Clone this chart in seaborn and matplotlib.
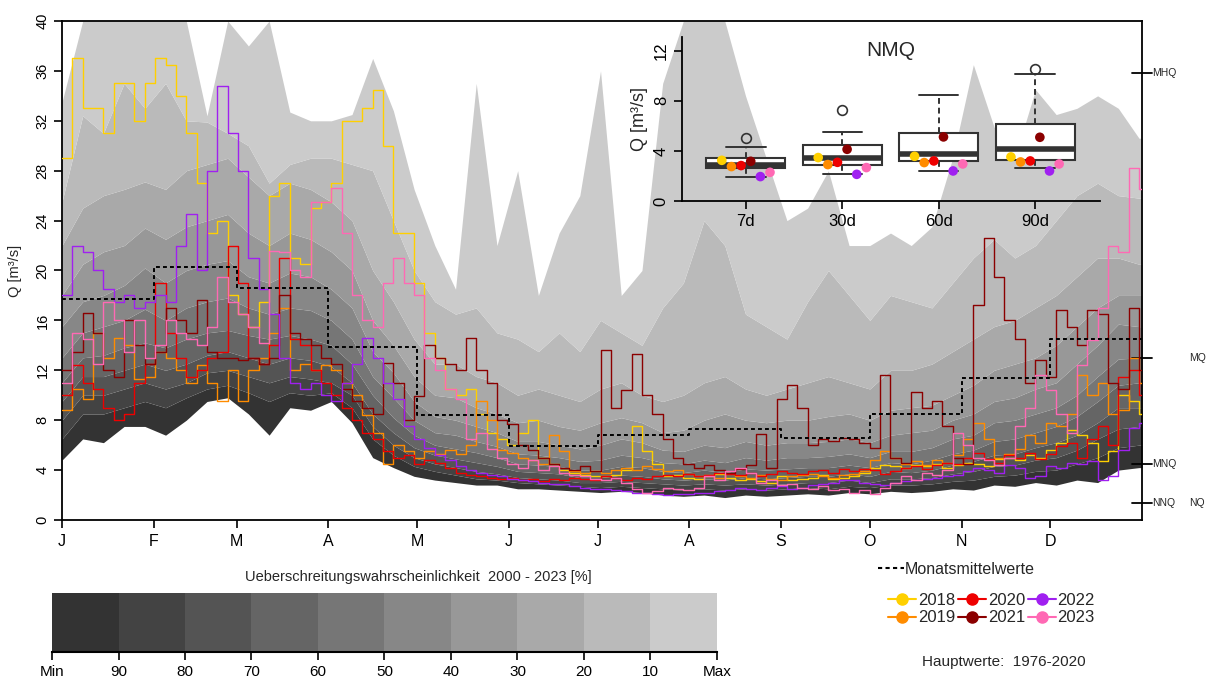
import numpy as np
import pandas as pd
import matplotlib
matplotlib.use("Agg")
import matplotlib.pyplot as plt
import matplotlib.transforms as mtransforms
from matplotlib.lines import Line2D
import seaborn as sns

# ---- data
# percentile bands: weekly readings (day of year each week starts)
days = np.arange(0, 365, 7)

q_min = [4.8, 6.5, 6.2, 7.5, 7.5, 6.8, 8.0, 9.5, 9.8, 8.5, 6.8, 9.0, 8.8, 9.5, 7.8, 5.0, 4.2, 3.5,
         3.2, 3.0, 2.8, 2.8, 2.5, 2.5, 2.4, 2.3, 2.2, 2.3, 2.2, 2.0, 1.9, 2.0, 1.8, 2.0, 1.9, 2.0,
         2.1, 2.0, 2.2, 2.1, 2.3, 2.2, 2.3, 2.5, 2.4, 2.8, 2.7, 3.0, 2.8, 3.2, 3.0, 4.0, 4.2]
q90 = [6.5, 8.5, 8.5, 9.0, 9.5, 9.0, 9.8, 10.5, 10.8, 10.2, 9.5, 10.2, 10.0, 10.2, 9.0, 6.5, 5.2, 4.3,
       3.9, 3.6, 3.3, 3.2, 3.0, 2.9, 2.8, 2.7, 2.6, 2.7, 2.6, 2.5, 2.4, 2.5, 2.4, 2.5, 2.4, 2.5,
       2.6, 2.5, 2.7, 2.6, 2.8, 2.8, 2.9, 3.1, 3.2, 3.5, 3.6, 3.9, 4.0, 4.5, 5.0, 5.8, 6.0]
q80 = [8.0, 10.0, 10.0, 10.5, 11.0, 10.5, 11.0, 11.8, 12.0, 11.5, 11.0, 11.5, 11.3, 11.0, 10.0, 7.5, 6.0, 5.0,
       4.5, 4.2, 3.9, 3.7, 3.4, 3.3, 3.2, 3.0, 3.0, 3.1, 3.0, 2.9, 2.8, 2.9, 2.8, 2.9, 2.8, 2.9,
       3.0, 3.0, 3.2, 3.0, 3.3, 3.3, 3.4, 3.7, 3.9, 4.3, 4.4, 4.8, 5.0, 5.6, 6.5, 7.3, 7.5]
q70 = [9.5, 11.5, 11.5, 12.0, 12.5, 12.0, 12.5, 13.2, 13.5, 13.0, 12.5, 13.0, 12.8, 12.3, 11.0, 8.5, 7.0, 5.8,
       5.2, 4.9, 4.6, 4.3, 3.9, 3.8, 3.7, 3.4, 3.4, 3.6, 3.5, 3.3, 3.2, 3.3, 3.2, 3.4, 3.3, 3.4,
       3.5, 3.5, 3.7, 3.5, 3.9, 3.8, 4.0, 4.4, 4.7, 5.2, 5.3, 5.8, 6.2, 6.8, 7.8, 9.0, 9.0]
q60 = [11.0, 13.0, 13.2, 13.8, 14.2, 13.8, 14.5, 15.0, 15.2, 14.8, 14.5, 14.8, 14.5, 14.0, 12.5, 10.0, 8.2, 6.8,
       6.0, 5.7, 5.4, 5.0, 4.5, 4.4, 4.3, 4.0, 4.0, 4.3, 4.2, 3.9, 3.8, 4.0, 3.8, 4.1, 4.0, 4.1,
       4.2, 4.2, 4.4, 4.2, 4.6, 4.5, 4.8, 5.3, 5.6, 6.3, 6.5, 7.0, 7.5, 8.3, 9.5, 10.8, 11.0]
q50 = [13.0, 15.0, 15.5, 16.0, 16.9, 16.0, 17.0, 17.5, 17.8, 17.0, 16.5, 17.0, 16.8, 16.0, 14.5, 11.5, 9.8, 8.0,
       7.0, 6.8, 6.3, 5.9, 5.3, 5.2, 5.0, 4.7, 4.8, 5.2, 5.0, 4.6, 4.5, 4.8, 4.6, 5.0, 4.8, 5.0,
       5.0, 5.1, 5.3, 5.0, 5.5, 5.5, 5.8, 6.5, 6.8, 7.8, 8.0, 8.5, 9.0, 10.0, 11.5, 12.9, 13.0]
q40 = [15.5, 17.5, 18.0, 18.8, 20.2, 19.0, 20.0, 20.5, 20.8, 19.5, 19.0, 19.8, 19.5, 18.5, 17.0, 13.5, 11.8, 9.5,
       8.3, 8.0, 7.5, 7.0, 6.3, 6.3, 6.0, 5.7, 6.0, 6.5, 6.2, 5.6, 5.5, 6.0, 5.8, 6.3, 6.0, 6.2,
       6.2, 6.3, 6.5, 6.2, 6.8, 7.0, 7.2, 8.0, 8.5, 9.5, 9.8, 10.5, 11.0, 12.5, 14.0, 15.7, 15.5]
q30 = [18.0, 20.5, 21.5, 22.0, 23.4, 22.5, 23.5, 24.0, 24.5, 23.0, 22.0, 23.0, 22.5, 21.5, 20.0, 16.0, 14.0, 11.5,
       10.0, 9.8, 9.0, 8.5, 7.8, 8.0, 7.5, 7.2, 7.8, 8.2, 7.8, 7.0, 7.2, 8.0, 8.5, 8.0, 7.8, 8.0,
       8.0, 8.3, 8.5, 8.0, 8.8, 9.0, 9.2, 10.0, 10.8, 12.0, 12.5, 13.0, 14.0, 15.5, 17.0, 18.0, 18.0]
q20 = [22.0, 25.0, 26.0, 26.5, 27.1, 26.5, 28.0, 28.5, 29.0, 27.5, 26.0, 27.0, 26.5, 25.5, 24.0, 20.0, 17.5, 14.5,
       12.5, 12.5, 11.5, 11.0, 10.0, 10.5, 10.0, 9.5, 10.5, 11.0, 10.0, 9.5, 10.0, 11.0, 11.5, 10.5, 10.0, 10.5,
       11.0, 11.5, 11.0, 10.5, 12.0, 12.0, 12.5, 13.5, 14.5, 15.5, 16.0, 17.0, 18.0, 19.5, 21.0, 21.0, 20.5]
q10 = [25.5, 32.4, 31.0, 35.0, 33.0, 35.0, 32.0, 31.9, 31.0, 30.0, 27.0, 28.5, 29.0, 29.0, 28.5, 28.0, 24.0, 20.0,
       17.5, 16.5, 17.0, 15.0, 14.5, 13.5, 15.0, 13.5, 16.0, 15.0, 14.0, 17.0, 19.0, 24.0, 22.0, 16.5, 15.5, 14.5,
       17.5, 20.0, 18.0, 16.0, 18.0, 17.5, 17.0, 19.0, 21.0, 22.5, 21.0, 22.0, 24.0, 26.0, 27.0, 26.0, 25.8]
q_max = [33.5, 40, 40, 40, 40, 40, 40, 32.4, 40, 38, 40, 32.7, 32, 32, 32.5, 37, 32.8, 26.5,
         22, 18.5, 35, 22, 28, 18, 23, 26, 36, 18, 20, 35, 40, 40, 40, 34, 29, 24,
         25, 28, 22, 22, 23, 22, 23.5, 29, 36.5, 31.5, 29, 34.5, 32.5, 33, 34, 33, 30.6]

# single years: half-week readings
half_days = np.arange(105) * 3.5

q_2018 = [29, 37, 33, 33, 31, 35, 35, 32, 35, 37,
          36.5, 34, 31, 27, 23, 24, 18, 16.5, 15.5, 17.5,
          26, 27, 21, 20.5, 25, 25.5, 27, 32, 32, 33,
          34.5, 30, 23, 23, 19, 15, 13, 10.5, 10, 10.5,
          8.5, 7, 6.5, 6, 7, 8, 5, 4.5, 4, 3.8,
          3.6, 3.5, 3.5, 3.6, 4, 7.5, 5.5, 4.5, 3.5, 3.6,
          3.4, 3.3, 3.5, 3.7, 3.4, 3.2, 3.3, 3.1, 3.0, 3.5,
          3.2, 3.3, 3.4, 3.6, 3.3, 3.4, 3.5, 3.8, 4.2, 4.4,
          4.3, 4.2, 4.4, 4.3, 4.5, 4.2, 4.4, 4.6, 4.5, 4.3,
          4.9, 5.0, 4.8, 5.2, 5.0, 5.6, 6.2, 7.2, 6.8, 6.2,
          4.7, 5.5, 10, 9.5, 8.5]
q_2019 = [8.8, 10.5, 9.7, 15, 13, 14.6, 14, 11.3, 11.5, 13.5,
          13, 12, 11, 12.4, 11, 9.5, 12, 9.5, 12, 13,
          15, 17, 12, 12.5, 12, 12.4, 12, 11, 10, 8.4,
          7, 4.5, 6, 5.5, 5, 5.5, 5.3, 5.6, 5.3, 6,
          9.5, 8, 5.6, 5.4, 5.0, 4.8, 4.5, 6.8, 5.5, 3.9,
          3.8, 3.9, 3.8, 4.0, 4.2, 4.0, 4.3, 4.1, 3.9, 4.0,
          3.7, 3.5, 3.6, 3.4, 3.7, 3.5, 3.4, 3.6, 3.3, 3.2,
          3.5, 3.6, 3.7, 3.5, 3.4, 3.6, 3.7, 3.9, 4.8, 5.5,
          5.0, 4.5, 4.7, 4.4, 4.8, 4.6, 5.2, 6.5, 7.8, 6.5,
          5.0, 5.3, 5.7, 6.8, 6.2, 7.8, 7.5, 8.5, 11.6, 10,
          11, 8.5, 8.8, 13, 11]
q_2020 = [10, 12.4, 11, 10.5, 9, 8, 8.5, 11, 12.5, 19,
          15, 13, 11.5, 12, 13, 13.5, 22, 19, 13, 12.5,
          14, 21, 14.5, 14, 12, 11, 10, 9, 8, 7,
          6.5, 5.5, 5, 5.2, 4.5, 4.8, 4.6, 4.2, 3.8, 3.6,
          3.5, 3.4, 3.3, 3.4, 3.2, 3.3, 3.1, 3.3, 3.2, 3.4,
          3.3, 3.2, 3.5, 3.4, 3.2, 3.4, 3.3, 3.5, 3.6, 3.5,
          3.7, 3.5, 3.6, 3.8, 3.7, 3.6, 3.8, 3.5, 3.7, 3.9,
          3.8, 3.7, 3.9, 4.0, 3.8, 4.1, 3.9, 4.1, 4.0, 3.7,
          3.9, 4.2, 4.3, 4.1, 4.4, 4.6, 4.5, 5.0, 5.4, 4.9,
          4.6, 5.2, 5.0, 5.4, 4.9, 5.3, 5.9, 6.2, 5.0, 6.5,
          7.5, 6.0, 11.5, 12, 10]
q_2021 = [12, 13.5, 16.6, 15, 12, 11.5, 16, 14, 12.5, 13.5,
          17, 16, 15, 17.6, 13.5, 13, 13, 12.8, 13, 12.5,
          13, 18, 15, 14.5, 14, 13, 12.5, 10.5, 9.5, 9,
          8.5, 12.6, 11, 8, 9.9, 14, 13, 12.5, 12, 14.6,
          12, 11, 8, 7.7, 6, 5.6, 5, 4.5, 4.2, 4.0,
          4.3, 3.9, 13.6, 9, 10.4, 13.3, 10, 8.5, 6.5, 5,
          4.5, 4.2, 4.4, 4.0, 3.8, 4.1, 4.4, 6.9, 4.2, 9.7,
          10.8, 9, 6, 6.5, 6.3, 6.6, 6.5, 6.2, 5.8, 11.6,
          5, 4.6, 10.3, 9, 9.5, 7.5, 5, 4.5, 17.2, 22.6,
          19.5, 16, 14.5, 11, 12.8, 11.5, 16.8, 15.5, 14, 16.8,
          16.5, 11, 10.5, 17, 12]
q_2022 = [18, 22, 21.5, 20, 18.5, 17.5, 18, 17, 17.5, 18,
          17.5, 22, 24.5, 20, 28, 34.8, 31, 28, 21, 18.5,
          16.5, 13, 11, 10.5, 11, 10, 9.5, 11, 12.5, 14.6,
          13, 11, 9.7, 7.5, 6.5, 5.8, 5.2, 4.8, 4.3, 4.0,
          3.8, 3.6, 3.5, 3.3, 3.2, 3.1, 3.0, 2.9, 2.9, 2.7,
          2.6, 2.5, 2.5, 2.4, 2.3, 2.2, 2.2, 2.1, 2.0, 2.1,
          2.1, 2.2, 2.2, 2.3, 2.4, 2.6, 2.5, 2.4, 2.6, 2.7,
          2.5, 2.6, 2.8, 2.9, 3.0, 3.2, 3.2, 3.0, 2.9, 2.8,
          3.0, 3.1, 3.2, 3.3, 3.4, 3.5, 3.6, 3.9, 4.2, 4.0,
          3.8, 4.4, 4.2, 3.4, 3.5, 4.3, 4.2, 4.6, 4.5, 4.7,
          3.2, 3.5, 5.6, 7.4, 7.8]
q_2023 = [11, 15, 14.5, 12.5, 17.5, 16, 13.5, 16, 13, 14,
          16, 15, 14.5, 14, 15.5, 19.5, 17.5, 16.5, 15.5, 14.2,
          21.6, 21.5, 20, 19.5, 25.5, 25.5, 26.6, 23, 18, 16,
          15.5, 19, 21, 19, 18, 13, 12, 10.5, 9.7, 6.5,
          7, 5.7, 5.0, 4.5, 4.2, 4.8, 4.0, 4.3, 3.8, 3.6,
          3.5, 3.3, 3.2, 3.4, 3.0, 2.5, 2.2, 2.3, 2.6, 2.5,
          2.4, 2.6, 3.5, 3.2, 3.9, 4.2, 3.8, 3.0, 3.2, 2.8,
          2.9, 2.6, 2.5, 2.7, 2.4, 2.5, 2.2, 2.4, 2.1, 2.6,
          3.0, 3.5, 3.2, 3.8, 3.6, 4.0, 7.0, 6.0, 5.0, 4.8,
          4.4, 5.0, 7.5, 9.0, 11.6, 10.4, 8.5, 7.0, 12.4, 14.4,
          17, 22, 21.5, 28.2, 26.5]

years = ['2018', '2019', '2020', '2021', '2022', '2023']
year_series = [q_2018, q_2019, q_2020, q_2021, q_2022, q_2023]
year_colors = ['#FFD000', '#FF8C00', '#EE0000', '#8B0000', '#A020F0', '#FF69B4']

month_start = [0, 31, 59, 90, 120, 151, 181, 212, 243, 273, 304, 334]
month_labels = ['J', 'F', 'M', 'A', 'M', 'J', 'J', 'A', 'S', 'O', 'N', 'D']
month_mean = [17.7, 20.3, 18.6, 13.9, 8.4, 5.9, 6.8, 7.3, 6.6, 8.5, 11.4, 14.5]

hq_names = ['MHQ', 'MQ', 'MNQ', 'NNQ']
hq_values = [35.8, 13.0, 4.5, 1.4]

class_labels = ['Min', '90', '80', '70', '60', '50', '40', '30', '20', '10', 'Max']
band_colors = ['#333333', '#434343', '#545454', '#656565', '#767676',
               '#878787', '#989898', '#a9a9a9', '#bababa', '#cbcbcb']

# NMQ boxplot statistics
nmq_periods = ['7d', '30d', '60d', '90d']
box_q1 = [2.62, 2.9, 3.2, 3.3]
box_med = [2.9, 3.43, 3.73, 4.15]
box_q3 = [3.45, 4.5, 5.4, 6.15]
whisk_lo = [1.95, 2.15, 2.4, 2.6]
whisk_hi = [4.3, 5.5, 8.5, 10.15]
outliers = [[5.0], [7.25], [], [10.55]]
nmq_2018 = [3.25, 3.47, 3.57, 3.52]
nmq_2019 = [2.75, 2.91, 3.07, 3.12]
nmq_2020 = [2.83, 3.09, 3.2, 3.2]
nmq_2021 = [3.17, 4.13, 5.12, 5.09]
nmq_2022 = [1.95, 2.13, 2.4, 2.4]
nmq_2023 = [2.29, 2.67, 2.96, 2.96]
nmq_years = [nmq_2018, nmq_2019, nmq_2020, nmq_2021, nmq_2022, nmq_2023]

# ---- style
sns.set_style("ticks")
plt.rcParams['font.family'] = ['Liberation Sans', 'DejaVu Sans']

fig = plt.figure(figsize=(12.09, 6.79), dpi=100)
W, H = 1209, 679

# ---- main panel
ax = fig.add_axes([62 / W, 159 / H, 1080 / W, 499 / H])
edge = np.append(days, 365)
bounds = [q_min, q90, q80, q70, q60, q50, q40, q30, q20, q10, q_max]
for lo, hi, col in zip(bounds[:-1], bounds[1:], band_colors):
    ax.fill_between(edge, np.append(lo, lo[-1]), np.append(hi, hi[-1]),
                    color=col, lw=0, zorder=1)

half_edge = np.append(half_days, 365)
rows = []
for yr, ser in zip(years, year_series):
    for d, q in zip(half_edge, np.append(ser, ser[-1])):
        rows.append((yr, d, q))
df_years = pd.DataFrame(rows, columns=['year', 'day', 'Q'])
sns.lineplot(data=df_years, x='day', y='Q', hue='year', palette=year_colors,
             drawstyle='steps-post', linewidth=1.0, legend=False, estimator=None,
             ax=ax, zorder=3)

sns.lineplot(x=month_start + [365], y=month_mean + [month_mean[-1]],
             drawstyle='steps-post', color='black', linestyle=(0, (2, 1.6)),
             linewidth=1.4, ax=ax, zorder=4)

ax.set_xlim(0, 365)
ax.set_ylim(0, 40)
ax.set_xticks(month_start)
ax.set_xticklabels(month_labels)
ax.set_yticks(range(0, 41, 4))
ax.set_xlabel('')
ax.set_ylabel('Q [m³/s]', fontsize=10.5, labelpad=10)
ax.tick_params(direction='out', length=6, width=1.2, colors='black')
ax.tick_params(axis='x', labelsize=11.5, pad=4)
ax.tick_params(axis='y', labelsize=10.5, pad=3)
for t in ax.get_yticklabels():
    t.set_rotation(90)
    t.set_va('center')
for s in ax.spines.values():
    s.set_linewidth(1.3)
    s.set_color('black')

trans = mtransforms.blended_transform_factory(ax.transAxes, ax.transData)
far = [False, True, False, False]
for name, val, f in zip(hq_names, hq_values, far):
    ax.plot([0.9907, 1.0093], [val, val], transform=trans, color='black',
            lw=1.3, clip_on=False)
    ax.text(1.044 if f else 1.0093, val, name, transform=trans, ha='left',
            va='center', fontsize=7.5)
ax.text(1.044, hq_values[3], 'NQ', transform=trans, ha='left', va='center', fontsize=7.5)

# ---- NMQ inset
ax_in = fig.add_axes([682 / W, 478 / H, 418 / W, 164 / H])
ax_in.patch.set_alpha(0)
stats = []
for i in range(len(nmq_periods)):
    stats.append(dict(q1=box_q1[i], med=box_med[i], q3=box_q3[i],
                      whislo=whisk_lo[i], whishi=whisk_hi[i], fliers=outliers[i]))
ax_in.bxp(stats, positions=[1, 2, 3, 4], widths=0.82, capwidths=0.41,
          patch_artist=True, showfliers=True,
          boxprops=dict(facecolor='white', edgecolor='#333333', linewidth=1.5),
          medianprops=dict(color='#333333', linewidth=4, solid_capstyle='butt'),
          whiskerprops=dict(color='#333333', linewidth=1.4, linestyle=(0, (3, 2))),
          capprops=dict(color='#333333', linewidth=1.4),
          flierprops=dict(marker='o', mfc='none', mec='#333333', ms=7, mew=1.2))

offsets = np.linspace(-0.25, 0.25, len(years))
pts = []
for k, (yr, vals) in enumerate(zip(years, nmq_years)):
    for i, v in enumerate(vals):
        pts.append((yr, i + 1 + offsets[k], v))
df_pts = pd.DataFrame(pts, columns=['year', 'x', 'Q'])
sns.scatterplot(data=df_pts, x='x', y='Q', hue='year', palette=year_colors,
                s=48, edgecolor='none', legend=False, ax=ax_in, zorder=5)

ax_in.set_xlim(0.337, 4.674)
ax_in.set_ylim(0, 13.1)
ax_in.set_xticks([1, 2, 3, 4])
ax_in.set_xticklabels(nmq_periods)
ax_in.set_yticks([0, 4, 8, 12])
ax_in.set_xlabel('')
ax_in.set_ylabel('Q [m³/s]', fontsize=13, labelpad=4)
ax_in.tick_params(direction='out', length=6, width=1.2, labelsize=12, colors='black')
for t in ax_in.get_yticklabels():
    t.set_rotation(90)
    t.set_va('center')
ax_in.spines['top'].set_visible(False)
ax_in.spines['right'].set_visible(False)
for s in ['left', 'bottom']:
    ax_in.spines[s].set_linewidth(1.3)
    ax_in.spines[s].set_color('black')
ax_in.text(0.5, 0.92, 'NMQ', transform=ax_in.transAxes, ha='center', va='center', fontsize=15)

# ---- class colour bar
ax_cb = fig.add_axes([52 / W, 27 / H, 665 / W, 59 / H])
ax_cb.bar(np.arange(len(band_colors)), np.ones(len(band_colors)), width=1.0,
          align='edge', color=band_colors, linewidth=0)
ax_cb.set_xlim(0, 10)
ax_cb.set_ylim(0, 1)
ax_cb.set_xticks(np.arange(11))
ax_cb.set_xticklabels(class_labels)
ax_cb.set_yticks([])
for s in ['top', 'left', 'right']:
    ax_cb.spines[s].set_visible(False)
ax_cb.spines['bottom'].set_linewidth(1.5)
ax_cb.spines['bottom'].set_color('black')
ax_cb.tick_params(axis='x', direction='out', length=6, width=1.2, labelsize=11, colors='black')
fig.text(418 / W, 1 - 577 / H, 'Ueberschreitungswahrscheinlichkeit  2000 - 2023 [%]',
         ha='center', va='center', fontsize=10.5)

# ---- legends
mm = Line2D([0], [0], color='black', linestyle=(0, (2, 1.6)), lw=1.5)
fig.legend([mm], ['Monatsmittelwerte'], loc='upper left',
           bbox_to_anchor=(878 / W, 1 - 562 / H), frameon=False, fontsize=11.5,
           handlelength=1.6, handletextpad=0.1, borderpad=0, borderaxespad=0)
handles = [Line2D([0], [0], color=c, marker='o', ms=8, lw=1.5) for c in year_colors]
fig.legend(handles, years, ncol=3, loc='upper left',
           bbox_to_anchor=(888 / W, 1 - 593 / H), frameon=False, fontsize=12,
           handlelength=1.7, handletextpad=0.1, columnspacing=0.15, labelspacing=0.15,
           borderpad=0, borderaxespad=0)
fig.text(922 / W, 1 - 662 / H, 'Hauptwerte:  1976-2020', ha='left', va='center', fontsize=11)

fig.savefig('out.png', dpi=100)
